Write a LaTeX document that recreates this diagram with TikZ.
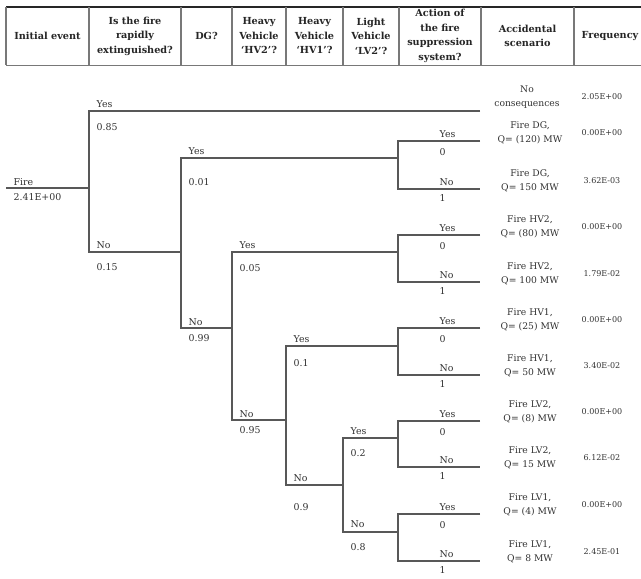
\documentclass[tikz,border=0pt]{standalone}
\usepackage{fontspec}
\setmainfont{DejaVu Serif}
\usepackage{xcolor}
\usepackage{tikz}
\usetikzlibrary{positioning}
\definecolor{linegray}{RGB}{88,88,88}
\definecolor{txtgray}{RGB}{50,50,50}
\definecolor{headtxt}{RGB}{38,38,38}
\definecolor{rulegray}{RGB}{120,120,120}
\tikzset{branch/.style={draw=linegray, line width=1.3pt}}
\tikzset{lbl/.style={text=txtgray, inner sep=1pt, font=\fontsize{9.4}{11}\selectfont}}
\tikzset{answer/.style={lbl, anchor=west, xshift=6pt, yshift=#1}, answer/.default=7pt}
\tikzset{prob/.style={lbl, anchor=west, xshift=6pt, yshift=-#1}, prob/.default=16pt}
\tikzset{act/.style={lbl, anchor=west, xshift=40pt, yshift=#1}, act/.default=6.5pt}
\tikzset{actp/.style={lbl, anchor=west, xshift=40pt, yshift=-#1}, actp/.default=11pt}
\tikzset{scen/.style={lbl, align=center, font=\fontsize{9.2}{13.5}\selectfont}}
\tikzset{freq/.style={lbl, font=\fontsize{8}{9}\selectfont}}
\tikzset{head/.style={text=headtxt, align=center, inner sep=1pt, font=\bfseries\fontsize{9.7}{14.5}\selectfont}}

\begin{document}
\begin{tikzpicture}[x=1pt, y=-1pt]
  \useasboundingbox[fill=white] (0,0) rectangle (641,579);
  %% header
  \draw[line width=1.6pt, black!85] (6,7) -- (641,7);
  \draw[line width=1pt, rulegray] (6,65) -- (641,65);
  \draw[line width=1.2pt, rulegray] (6,7) -- (6,65) (89,7) -- (89,65)
    (181,7) -- (181,65) (232,7) -- (232,65) (286,7) -- (286,65)
    (343,7) -- (343,65) (399,7) -- (399,65) (481,7) -- (481,65)
    (574,7) -- (574,65);
  \node[head] (hInit) at (47.5,36) {Initial event};
  \node[head] (hExt) at (135,36) {Is the fire\\rapidly\\extinguished?};
  \node[head] (hDG) at (206.5,36) {DG?};
  \node[head] (hHVtwo) at (259,36) {Heavy\\Vehicle\\`HV2'?};
  \node[head] (hHVone) at (314.5,36) {Heavy\\Vehicle\\`HV1'?};
  \node[head] (hLVtwo) at (371,36) {Light\\Vehicle\\`LV2'?};
  \node[head] (hSupp) at (440,36) {Action of\\the fire\\suppression\\system?};
  \node[head] (hScen) at (527.5,36) {Accidental\\scenario};
  \node[head] (hFreq) at (610,36) {Frequency};

  %% tree junctions
  \coordinate (fire) at (6,188);
  \coordinate (nA) at (89,188);
  \coordinate (aY) at (89,111);
  \coordinate (aN) at (89,252);
  \coordinate (cons) at (480,111);
  \coordinate (nB) at (181,252);
  \coordinate (bY) at (181,158);
  \coordinate (bN) at (181,328);
  \coordinate (nC) at (232,328);
  \coordinate (cY) at (232,252);
  \coordinate (cN) at (232,420);
  \coordinate (nD) at (286,420);
  \coordinate (dY) at (286,346);
  \coordinate (dN) at (286,485);
  \coordinate (nE) at (343,485);
  \coordinate (eY) at (343,438);
  \coordinate (eN) at (343,532);
  %% suppression junctions
  \coordinate (sDG) at (398,158);
  \coordinate (sHVtwo) at (398,252);
  \coordinate (sHVone) at (398,346);
  \coordinate (sLVtwo) at (398,438);
  \coordinate (sLVone) at (398,532);
  \coordinate (dgT) at (398,141);   \coordinate (dgTe) at (480,141);
  \coordinate (dgB) at (398,189);   \coordinate (dgBe) at (480,189);
  \coordinate (hvtwoT) at (398,235); \coordinate (hvtwoTe) at (480,235);
  \coordinate (hvtwoB) at (398,282); \coordinate (hvtwoBe) at (480,282);
  \coordinate (hvoneT) at (398,328); \coordinate (hvoneTe) at (480,328);
  \coordinate (hvoneB) at (398,375); \coordinate (hvoneBe) at (480,375);
  \coordinate (lvtwoT) at (398,421); \coordinate (lvtwoTe) at (480,421);
  \coordinate (lvtwoB) at (398,467); \coordinate (lvtwoBe) at (480,467);
  \coordinate (lvoneT) at (398,514); \coordinate (lvoneTe) at (480,514);
  \coordinate (lvoneB) at (398,561); \coordinate (lvoneBe) at (480,561);

  %% branches
  \draw[branch] (fire) node[answer=6pt] {Fire} node[prob=9pt] {2.41E+00} -- (nA);
  \draw[branch] (cons) -- (aY) node[answer] {Yes} node[prob] {0.85}
    -- (aN) node[answer] {No} node[prob=15pt] {0.15} -- (nB);
  \draw[branch] (sDG) -- (bY) node[answer] {Yes} node[prob=24pt] {0.01}
    -- (bN) node[answer=6pt] {No} node[prob=10pt] {0.99} -- (nC);
  \draw[branch] (sHVtwo) -- (cY) node[answer] {Yes} node[prob] {0.05}
    -- (cN) node[answer=6pt] {No} node[prob=10pt] {0.95} -- (nD);
  \draw[branch] (sHVone) -- (dY) node[answer] {Yes} node[prob=17pt] {0.1}
    -- (dN) node[answer] {No} node[prob=22pt] {0.9} -- (nE);
  \draw[branch] (sLVtwo) -- (eY) node[answer] {Yes} node[prob=15pt] {0.2}
    -- (eN) node[answer=8pt] {No} node[prob=15pt] {0.8} -- (sLVone);

  %% suppression system
  \draw[branch] (dgTe) -- (dgT) node[act] {Yes} node[actp] {0}
    -- (dgB) node[act] {No} node[actp=9pt] {1} -- (dgBe);
  \draw[branch] (hvtwoTe) -- (hvtwoT) node[act] {Yes} node[actp] {0}
    -- (hvtwoB) node[act] {No} node[actp=9pt] {1} -- (hvtwoBe);
  \draw[branch] (hvoneTe) -- (hvoneT) node[act] {Yes} node[actp] {0}
    -- (hvoneB) node[act] {No} node[actp=9pt] {1} -- (hvoneBe);
  \draw[branch] (lvtwoTe) -- (lvtwoT) node[act] {Yes} node[actp] {0}
    -- (lvtwoB) node[act] {No} node[actp=9pt] {1} -- (lvtwoBe);
  \draw[branch] (lvoneTe) -- (lvoneT) node[act] {Yes} node[actp] {0}
    -- (lvoneB) node[act] {No} node[actp=9pt] {1} -- (lvoneBe);

  %% scenarios and frequencies
  \node[scen] (scNo) at (527,97) {No\\consequences};
  \node[freq] (frNo) at (602,97) {2.05E+00};
  \node[scen] (scDGa) at (530,133) {Fire DG,\\Q= (120) MW};
  \node[freq] (frDGa) at (602,133) {0.00E+00};
  \node[scen] (scDGb) at (530,181) {Fire DG,\\Q= 150 MW};
  \node[freq] (frDGb) at (602,181) {3.62E-03};
  \node[scen] (scHVtwoa) at (530,227) {Fire HV2,\\Q= (80) MW};
  \node[freq] (frHVtwoa) at (602,227) {0.00E+00};
  \node[scen] (scHVtwob) at (530,274) {Fire HV2,\\Q= 100 MW};
  \node[freq] (frHVtwob) at (602,274) {1.79E-02};
  \node[scen] (scHVonea) at (530,320) {Fire HV1,\\Q= (25) MW};
  \node[freq] (frHVonea) at (602,320) {0.00E+00};
  \node[scen] (scHVoneb) at (530,366) {Fire HV1,\\Q= 50 MW};
  \node[freq] (frHVoneb) at (602,366) {3.40E-02};
  \node[scen] (scLVtwoa) at (530,412) {Fire LV2,\\Q= (8) MW};
  \node[freq] (frLVtwoa) at (602,412) {0.00E+00};
  \node[scen] (scLVtwob) at (530,458) {Fire LV2,\\Q= 15 MW};
  \node[freq] (frLVtwob) at (602,458) {6.12E-02};
  \node[scen] (scLVonea) at (530,505) {Fire LV1,\\Q= (4) MW};
  \node[freq] (frLVonea) at (602,505) {0.00E+00};
  \node[scen] (scLVoneb) at (530,552) {Fire LV1,\\Q= 8 MW};
  \node[freq] (frLVoneb) at (602,552) {2.45E-01};
\end{tikzpicture}
\end{document}
